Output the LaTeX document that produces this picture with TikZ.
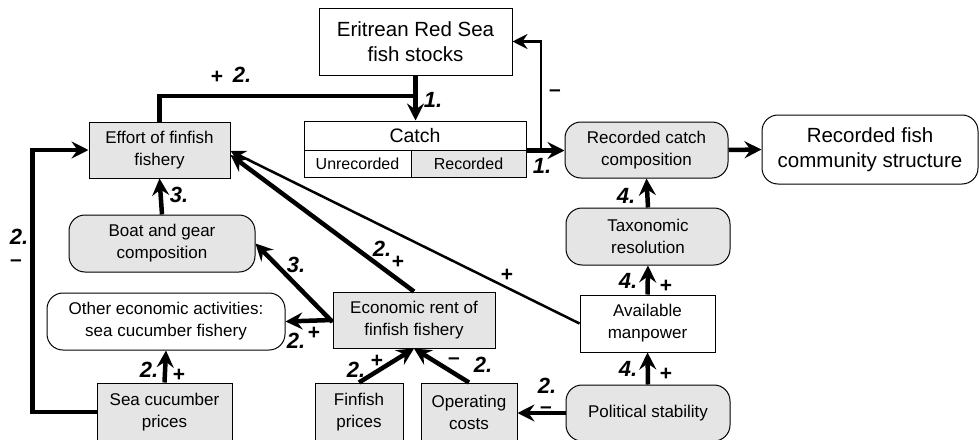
\documentclass[tikz,border=0pt]{standalone}
\usepackage{fontspec}
\setmainfont{Liberation Sans}
\usetikzlibrary{arrows.meta}
\begin{document}
\begin{tikzpicture}[x=1pt,y=-1pt,
  box/.style={draw, line width=1pt, inner sep=0pt, align=center, font=\fontsize{17}{22}\selectfont},
  gr/.style={fill=black!10},
  rnd/.style={rounded corners=16pt},
  big/.style={font=\fontsize{20.5}{25}\selectfont},
  thickarrow/.style={line width=4.5pt, -{Stealth[length=17pt,width=17pt,inset=6pt]}},
  thinarrow/.style={line width=2.5pt, -{Stealth[length=15pt,width=15pt,inset=5pt]}},
  thickline/.style={line width=4.5pt},
  num/.style={inner sep=0pt, font=\fontsize{22}{22}\selectfont\bfseries\itshape},
  sgn/.style={inner sep=0pt, font=\fontsize{21}{21}\selectfont\bfseries}
]
\useasboundingbox (0,0) rectangle (979,439);

% nodes
\node[box, big, minimum width=193pt, minimum height=67pt] (stocks) at (415.5,41.5) {Eritrean Red Sea\\fish stocks};
\node[box, minimum width=222pt, minimum height=29pt, font=\fontsize{19.5}{22}\selectfont] (catch) at (415,135.5) {Catch};
\node[box, minimum width=107pt, minimum height=27pt, font=\fontsize{16}{20}\selectfont] (unrec) at (357.5,163.5) {Unrecorded};
\node[box, gr, minimum width=115pt, minimum height=27pt, font=\fontsize{16}{20}\selectfont] (rec) at (468.5,163.5) {Recorded};
\node[box, gr, minimum width=141pt, minimum height=56pt] (effort) at (159.5,150) {Effort of finfish\\fishery};
\node[box, gr, rnd, minimum width=163pt, minimum height=56pt] (rcc) at (646.5,150) {Recorded catch\\composition};
\node[box, big, rnd, minimum width=216pt, minimum height=69pt] (rfcs) at (870,149.5) {Recorded fish\\community structure};
\node[box, gr, rnd, minimum width=186pt, minimum height=57pt] (boat) at (162,243.5) {Boat and gear\\composition};
\node[box, rnd, minimum width=238pt, minimum height=57pt] (other) at (166,321.5) {Other economic activities:\\sea cucumber fishery};
\node[box, gr, minimum width=162pt, minimum height=56pt] (rent) at (414,320) {Economic rent of\\finfish fishery};
\node[box, gr, minimum width=135pt, minimum height=58pt] (scp) at (164.5,412) {Sea cucumber\\prices};
\node[box, gr, minimum width=88pt, minimum height=58pt] (ffp) at (359,412) {Finfish\\prices};
\node[box, gr, minimum width=96pt, minimum height=58pt] (opc) at (469,412) {Operating\\costs};
\node[box, gr, rnd, minimum width=164pt, minimum height=56pt] (pol) at (648,413) {Political stability};
\node[box, minimum width=135pt, minimum height=57pt] (man) at (647.5,323.5) {Available\\manpower};
\node[box, gr, rnd, minimum width=164pt, minimum height=57pt] (tax) at (648,236.5) {Taxonomic\\resolution};

% connectors
\coordinate (merge) at (415.5,96);
\draw[thickarrow] (stocks.south) -- (stocks.south |- catch.north);
\draw[thickline] (effort.north) |- (merge);
\draw[thickarrow] (catch.south east) -- (rcc.west |- catch.south east);
\coordinate (fb) at (541,150);
\draw[thinarrow] (fb) |- (stocks.east);
\draw[thickarrow] (rcc.east) -- (rfcs.west);
\draw[thickarrow] (tax.north) -- (rcc.south);
\draw[thickarrow] (man.north) -- (tax.south);
\draw[thickarrow] (pol.north) -- (man.south);
\draw[thickarrow] (pol.west) -- (opc.east |- pol.west);
\draw[thickarrow] (opc.north) -- (rent.south);
\draw[thickarrow] (ffp.north) -- (rent.south);
\draw[thickarrow] (rent.north) -- ([yshift=-5pt]effort.east);
\draw[thinarrow] (man.west) -- ([yshift=-1pt]effort.east);
\draw[thickarrow] ([yshift=-2pt]rent.west) -- (boat.east);
\draw[thickarrow] (rent.west) -- (other.east);
\draw[thickarrow] (scp.north) -- (other.south);
\draw[thickarrow] (boat.north) -- (effort.south);
\draw[thickarrow] (scp.west) -- ++(-64,0) |- (effort.west);

% labels
\node[num] (n1a) at (433,100) {1.};
\node[sgn] (p2a) at (217,77) {+};
\node[num] (n2a) at (242,75) {2.};
\node[num] (n1b) at (542,166) {1.};
\node[sgn] (mfb) at (555,93) {–};
\node[num] (n4a) at (626,196) {4.};
\node[num] (n4b) at (628,281) {4.};
\node[sgn] (p4b) at (666,286) {+};
\node[num] (n4c) at (628,369) {4.};
\node[sgn] (p4c) at (666,374) {+};
\node[num] (n2b) at (547,386) {2.};
\node[sgn] (m2b) at (546,410) {–};
\node[sgn] (m2c) at (454,361) {–};
\node[num] (n2c) at (483,365) {2.};
\node[num] (n2d) at (356,370) {2.};
\node[sgn] (p2d) at (377,361) {+};
\node[num] (n2e) at (382,249) {2.};
\node[sgn] (p2e) at (398,262) {+};
\node[sgn] (pman) at (507,275) {+};
\node[num] (n3a) at (296,265) {3.};
\node[num] (n2f) at (296,341) {2.};
\node[sgn] (p2f) at (314,333) {+};
\node[num] (n2g) at (149,370) {2.};
\node[sgn] (p2g) at (179,375) {+};
\node[num] (n2h) at (19,237) {2.};
\node[sgn] (m2h) at (16,263) {–};
\node[num] (n3b) at (179,195) {3.};
\end{tikzpicture}
\end{document}
